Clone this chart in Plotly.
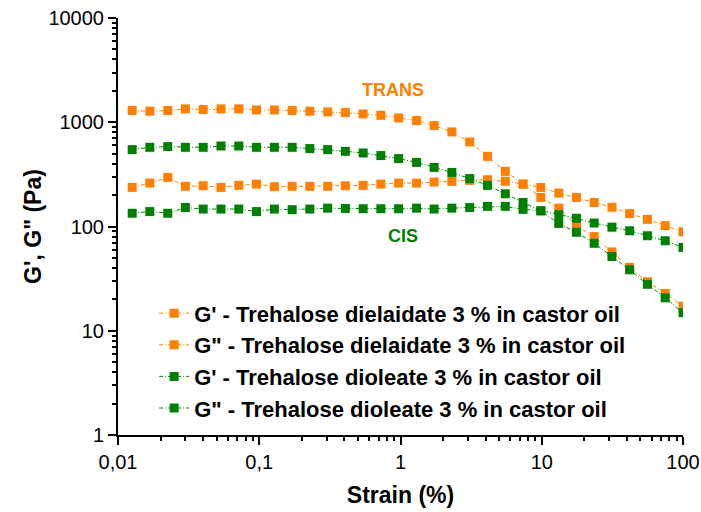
import plotly.graph_objects as go

# strain (%) - log spaced sweep
strain = [0.0126, 0.0168, 0.0225, 0.0300, 0.0401, 0.0536, 0.0716, 0.0956,
          0.128, 0.171, 0.228, 0.305, 0.407, 0.544, 0.726, 0.970,
          1.30, 1.73, 2.31, 3.09, 4.13, 5.52, 7.37, 9.85,
          13.2, 17.6, 23.5, 31.4, 41.9, 56.0, 74.8, 100]

# trehalose dielaidate (TRANS)
trans_g1 = [1296, 1276, 1296, 1343, 1324, 1343, 1343, 1312,
            1312, 1296, 1276, 1256, 1239, 1202, 1167, 1099,
            1038, 929, 807, 647, 471, 338, 255, 190,
            150, 102, 80, 57, 40.5, 29.5, 22.8, 17.2]
trans_g2 = [237, 261, 296, 243, 246, 237, 248, 255,
            241, 243, 243, 243, 246, 248, 255, 261,
            261, 267, 271, 277, 281, 271, 255, 237,
            209, 190, 170, 153, 133, 117, 102, 89]

# trehalose dioleate (CIS)
cis_g1 = [546, 575, 584, 575, 575, 592, 592, 575,
          575, 575, 559, 546, 526, 507, 479, 448,
          412, 369, 330, 288, 248, 206, 170, 141,
          107, 88, 69, 51.5, 38.4, 27.9, 20.7, 14.9]
cis_g2 = [134, 139, 134, 152, 147, 147, 147, 139,
          147, 145, 147, 150, 149, 148, 148, 148,
          150, 147, 150, 152, 156, 156, 146, 142,
          130, 120, 108, 98.5, 91, 81.5, 73, 63]

names = ["G' - Trehalose dielaidate 3 % in castor oil",
         'G" - Trehalose dielaidate 3 % in castor oil',
         "G' - Trehalose dioleate 3 % in castor oil",
         'G" - Trehalose dioleate 3 % in castor oil']

ORANGE = "#FF8000"
GREEN = "#008000"
FONT = "Liberation Sans, Arial, sans-serif"

fig = go.Figure()
for ys, name, col in [(trans_g1, names[0], ORANGE),
                      (trans_g2, names[1], ORANGE),
                      (cis_g1, names[2], GREEN),
                      (cis_g2, names[3], GREEN)]:
    fig.add_trace(go.Scatter(
        x=strain, y=ys, name="<b>" + name + "</b>", mode="lines+markers",
        line=dict(color=col, width=1, dash="4px,2px,1px,2px"),
        marker=dict(symbol="square", size=9, color=col)))

fig.add_annotation(x=0.487, y=0.827, xref="paper", yref="paper", text="<b>TRANS</b>",
                   xanchor="center", yanchor="middle",
                   showarrow=False, font=dict(family=FONT, size=18, color=ORANGE))
fig.add_annotation(x=0.505, y=0.477, xref="paper", yref="paper", text="<b>CIS</b>",
                   xanchor="center", yanchor="middle",
                   showarrow=False, font=dict(family=FONT, size=18, color=GREEN))

axis_common = dict(
    showline=True, linewidth=2, linecolor="black", mirror=False,
    showgrid=False, zeroline=False, automargin=False,
    ticklabeloverflow="allow",
    ticks="outside", ticklen=8, tickwidth=2, tickcolor="black",
    minor=dict(ticks="outside", ticklen=4, tickwidth=1.5, tickcolor="black",
               dtick="D1", showgrid=False),
    tickfont=dict(family=FONT, size=20, color="black"),
)

fig.update_xaxes(type="log", range=[-2, 2],
                 tickvals=[0.01, 0.1, 1, 10, 100],
                 ticktext=["0,01", "0,1", "1", "10", "100"],
                 title=dict(text="<b>Strain (%)</b>", standoff=15,
                            font=dict(family=FONT, size=23, color="black")),
                 **axis_common)
fig.update_yaxes(type="log", range=[0, 4],
                 tickvals=[1, 10, 100, 1000, 10000],
                 ticktext=["1", "10", "100", "1000", "10000"],
                 title=dict(text="<b>G', G\" (Pa)</b>", standoff=0,
                            font=dict(family=FONT, size=23, color="black")),
                 **axis_common)

fig.update_layout(
    width=701, height=512,
    margin=dict(l=118, r=18, t=18, b=77),
    paper_bgcolor="white", plot_bgcolor="white",
    showlegend=True,
    legend=dict(x=0.064, y=0.342, xanchor="left", yanchor="top",
                bgcolor="rgba(0,0,0,0)", borderwidth=0,
                font=dict(family=FONT, size=22, color="black")),
)

# drop the default 8px body margin so the figure fills the window; no modebar
fig.write_html("out.html", config={"displayModeBar": False},
               post_script="document.body.style.margin='0';")
